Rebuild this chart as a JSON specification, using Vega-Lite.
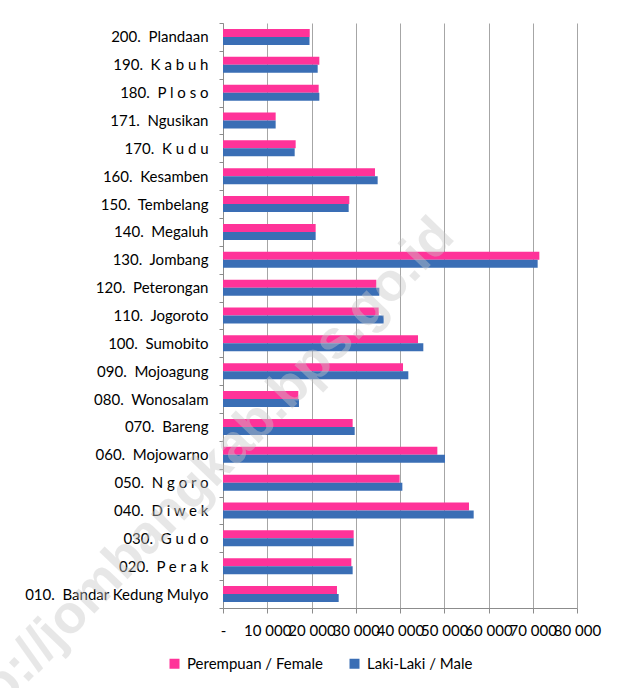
{
  "$schema": "https://vega.github.io/schema/vega-lite/v6.json",
  "autosize": "none",
  "width": 354,
  "height": 585,
  "padding": {"left": 223, "top": 23, "right": 43, "bottom": 80},
  "background": "white",
  "config": {
    "font": "Lato",
    "view": {"stroke": null}
  },
  "datasets": {
    "pop": [
      {"kec": "200.\u00a0 Plandaan", "sex": "Perempuan / Female", "value": 19600},
      {"kec": "200.\u00a0 Plandaan", "sex": "Laki-Laki / Male", "value": 19550},
      {"kec": "190.\u00a0 K a b u h", "sex": "Perempuan / Female", "value": 21770},
      {"kec": "190.\u00a0 K a b u h", "sex": "Laki-Laki / Male", "value": 21400},
      {"kec": "180.\u00a0 P l o s o", "sex": "Perempuan / Female", "value": 21620},
      {"kec": "180.\u00a0 P l o s o", "sex": "Laki-Laki / Male", "value": 21770},
      {"kec": "171.\u00a0 Ngusikan", "sex": "Perempuan / Female", "value": 11900},
      {"kec": "171.\u00a0 Ngusikan", "sex": "Laki-Laki / Male", "value": 11900},
      {"kec": "170.\u00a0 K u d u", "sex": "Perempuan / Female", "value": 16420},
      {"kec": "170.\u00a0 K u d u", "sex": "Laki-Laki / Male", "value": 16200},
      {"kec": "160.\u00a0 Kesamben", "sex": "Perempuan / Female", "value": 34350},
      {"kec": "160.\u00a0 Kesamben", "sex": "Laki-Laki / Male", "value": 34950},
      {"kec": "150.\u00a0 Tembelang", "sex": "Perempuan / Female", "value": 28550},
      {"kec": "150.\u00a0 Tembelang", "sex": "Laki-Laki / Male", "value": 28400},
      {"kec": "140.\u00a0 Megaluh", "sex": "Perempuan / Female", "value": 20940},
      {"kec": "140.\u00a0 Megaluh", "sex": "Laki-Laki / Male", "value": 20940},
      {"kec": "130.\u00a0 Jombang", "sex": "Perempuan / Female", "value": 71490},
      {"kec": "130.\u00a0 Jombang", "sex": "Laki-Laki / Male", "value": 71110},
      {"kec": "120.\u00a0 Peterongan", "sex": "Perempuan / Female", "value": 34650},
      {"kec": "120.\u00a0 Peterongan", "sex": "Laki-Laki / Male", "value": 35330},
      {"kec": "110.\u00a0 Jogoroto", "sex": "Perempuan / Female", "value": 35180},
      {"kec": "110.\u00a0 Jogoroto", "sex": "Laki-Laki / Male", "value": 36310},
      {"kec": "100.\u00a0 Sumobito", "sex": "Perempuan / Female", "value": 44070},
      {"kec": "100.\u00a0 Sumobito", "sex": "Laki-Laki / Male", "value": 45270},
      {"kec": "090.\u00a0 Mojoagung", "sex": "Perempuan / Female", "value": 40680},
      {"kec": "090.\u00a0 Mojoagung", "sex": "Laki-Laki / Male", "value": 41880},
      {"kec": "080.\u00a0 Wonosalam", "sex": "Perempuan / Female", "value": 17020},
      {"kec": "080.\u00a0 Wonosalam", "sex": "Laki-Laki / Male", "value": 17170},
      {"kec": "070.\u00a0 Bareng", "sex": "Perempuan / Female", "value": 29300},
      {"kec": "070.\u00a0 Bareng", "sex": "Laki-Laki / Male", "value": 29760},
      {"kec": "060.\u00a0 Mojowarno", "sex": "Perempuan / Female", "value": 48440},
      {"kec": "060.\u00a0 Mojowarno", "sex": "Laki-Laki / Male", "value": 50170},
      {"kec": "050.\u00a0 N g o r o", "sex": "Perempuan / Female", "value": 39920},
      {"kec": "050.\u00a0 N g o r o", "sex": "Laki-Laki / Male", "value": 40530},
      {"kec": "040.\u00a0 D i w e k", "sex": "Perempuan / Female", "value": 55590},
      {"kec": "040.\u00a0 D i w e k", "sex": "Laki-Laki / Male", "value": 56650},
      {"kec": "030.\u00a0 G u d o", "sex": "Perempuan / Female", "value": 29530},
      {"kec": "030.\u00a0 G u d o", "sex": "Laki-Laki / Male", "value": 29530},
      {"kec": "020.\u00a0 P e r a k", "sex": "Perempuan / Female", "value": 29000},
      {"kec": "020.\u00a0 P e r a k", "sex": "Laki-Laki / Male", "value": 29300},
      {"kec": "010.\u00a0 Bandar Kedung Mulyo", "sex": "Perempuan / Female", "value": 25760},
      {"kec": "010.\u00a0 Bandar Kedung Mulyo", "sex": "Laki-Laki / Male", "value": 26140}
    ],
    "wm": [{"t": "http://jombangkab.bps.go.id"}]
  },
  "layer": [
    {
      "data": {"name": "pop"},
      "mark": {"type": "bar"},
      "encoding": {
        "y": {
          "field": "kec", "type": "nominal", "sort": null,
          "scale": {"paddingInner": 0, "paddingOuter": 0},
          "axis": {
            "title": null, "tickBand": "extent", "tickSize": 4, "labelPadding": 11,
            "labelFontSize": 15, "labelColor": "#000000", "labelFont": "Lato",
            "domainColor": "#8c8c8c", "tickColor": "#8c8c8c", "grid": false, "labelLimit": 300
          }
        },
        "yOffset": {
          "field": "sex", "type": "nominal",
          "sort": ["Perempuan / Female", "Laki-Laki / Male"],
          "scale": {"paddingInner": 0, "paddingOuter": 0.74}
        },
        "x": {
          "field": "value", "type": "quantitative",
          "scale": {"domain": [0, 80000], "nice": false, "zero": true},
          "axis": {
            "title": null, "values": [0, 10000, 20000, 30000, 40000, 50000, 60000, 70000, 80000],
            "labelExpr": "datum.value == 0 ? '-' : replace(format(datum.value, ','), ',', ' ')",
            "labelOverlap": false, "labelBound": false, "labelFlush": false,
            "labelFontSize": 15, "labelColor": "#000000", "labelPadding": 10,
            "tickSize": 5, "tickColor": "#8c8c8c", "domainColor": "#8c8c8c",
            "grid": true, "gridColor": "#a6a6a6", "gridWidth": 1
          }
        },
        "color": {
          "field": "sex", "type": "nominal",
          "scale": {"domain": ["Perempuan / Female", "Laki-Laki / Male"], "range": ["#ff3399", "#3a6eb5"]},
          "legend": {
            "title": null, "orient": "none", "direction": "horizontal",
            "legendX": -56, "legendY": 633,
            "symbolType": "square", "symbolSize": 100, "symbolStrokeWidth": 0,
            "labelFontSize": 15, "labelColor": "#000000", "labelOffset": 5,
            "columnPadding": 24
          }
        }
      }
    },
    {
      "data": {"name": "wm"},
      "mark": {"type": "text", "angle": -46, "align": "center", "baseline": "middle", "fontSize": 54, "fontWeight": "bold", "font": "Liberation Sans", "color": "#c8c8c8", "opacity": 0.42, "dy": 7},
      "encoding": {
        "text": {"field": "t"},
        "x": {"datum": -7750},
        "y": {"datum": "050.\u00a0 N g o r o"}
      }
    }
  ]
}
